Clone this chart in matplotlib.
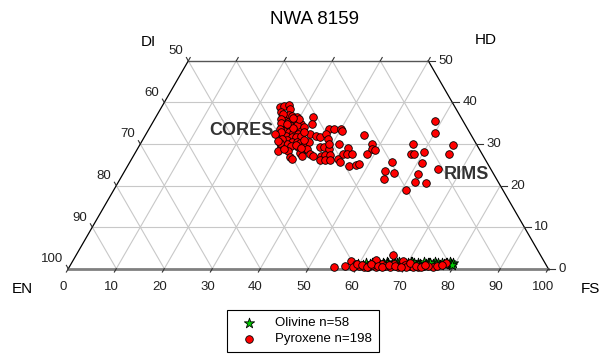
import matplotlib
matplotlib.use("Agg")
import matplotlib.pyplot as plt
import numpy as np

plt.rcParams['font.family'] = ['Liberation Sans', 'DejaVu Sans']

# Pyroxene analyses (Wo, Fs), En = 100 - Wo - Fs
pyx_wo = [38.9, 39.1, 39.3, 38.5, 37.7, 36.5, 36.9, 36.7, 36.4, 34.9, 35.7, 35.3, 35.6, 35.1,
          34.3, 34.1, 34.3, 33.7, 33.7, 33.1, 32.9, 32.7, 32.5, 32.1, 31.9, 31.6, 31.6, 31.9,
          30.9, 30.5, 30.5, 30.3, 30.3, 30.5, 29.9, 29.5, 29.3, 28.3, 28.3, 29.3, 28.5, 28.9,
          26.9, 27.9, 27.1, 27.7, 26.3,
          36.5, 34.7, 33.7, 33.7, 33.7, 33.2, 32.3, 31.9, 31.6, 32.3, 31.2, 32.1, 29.3, 29.3,
          28.9, 29.9, 29.1, 27.1, 27.1, 27.3, 27.3, 26.1, 26.1, 26.1, 26.5, 27.5, 27.5, 27.5,
          25.7, 24.7, 24.9, 25.3, 30.1,
          37.2, 36.0, 35.0, 34.6, 33.5, 32.8, 33.9, 31.2, 30.2, 35.9, 34.0, 33.0, 31.0, 29.8,
          28.8, 32.4, 34.8, 36.2, 30.8, 29.0,
          35.6, 32.7, 30.1, 28.7, 28.5, 27.7, 30.1, 29.7, 27.7, 27.7, 28.1, 27.5, 25.7, 25.5,
          23.5, 23.1, 24.1, 22.7, 21.5, 20.9, 20.5, 18.9,
          0.3, 1.8, 1.25, 0.6, 0.4, 0.3, 2.0, 0.4, 1.1, 0.4, 3.25, 1.25, 1.9, 0.6, 0.4, 0.6,
          0.4, 1.4, 0.4, 0.6, 0.8, 0.6, 0.5, 0.5, 0.6, 1.1, 1.1,
          0.9, 0.5, 1.2, 0.7, 0.4, 1.0, 0.6, 0.9, 0.5, 1.3, 0.7, 0.5, 0.8, 0.6, 1.0, 0.4]
pyx_fs = [24.6, 25.4, 26.3, 26.9, 25.5, 27.0, 27.5, 28.3, 29.4, 31.0, 27.1, 28.1, 28.9, 29.8,
          27.6, 28.6, 29.3, 30.5, 31.4, 28.4, 29.5, 30.5, 31.5, 28.5, 29.5, 30.7, 31.6, 32.5,
          30.2, 31.4, 32.3, 33.1, 34.1, 34.9, 30.6, 31.6, 29.7, 29.5, 31.6, 33.1, 34.7, 35.3,
          32.7, 34.3, 35.2, 36.6, 33.5,
          32.8, 33.4, 37.5, 38.6, 40.0, 40.4, 34.3, 35.7, 36.6, 37.5, 38.6, 45.6, 37.8, 38.7,
          39.9, 41.5, 43.8, 37.4, 39.0, 39.8, 40.9, 39.4, 40.4, 41.5, 43.0, 43.4, 44.4, 45.3,
          43.8, 46.2, 47.5, 48.0, 39.3,
          26.2, 26.4, 26.8, 30.4, 27.3, 28.0, 29.9, 29.0, 29.1, 30.2, 32.0, 32.6, 33.5, 32.6,
          30.6, 26.9, 28.2, 28.7, 28.3, 34.0,
          58.6, 60.0, 48.2, 48.9, 49.6, 48.3, 56.7, 65.2, 57.5, 58.2, 60.0, 65.6, 54.5, 60.9,
          54.2, 56.4, 64.9, 61.6, 55.0, 61.8, 64.3, 60.8,
          55.1, 57.9, 59.3, 60.3, 61.3, 62.35, 63.1, 63.9, 64.75, 66.8, 66.1, 68.9, 68.85, 70.9,
          72.7, 73.7, 75.7, 78.0, 59.05, 57.3, 62.9, 65.7, 68.4, 71.5, 74.6, 67.3, 59.6,
          60.8, 61.9, 62.4, 64.2, 65.1, 66.3, 67.8, 69.6, 70.2, 70.5, 72.1, 73.2, 74.0, 76.6,
          77.3, 69.1]

# Olivine analyses (plotted on the En-Fs join)
ol_fs = [59.8, 60.9, 61.4, 62.2, 62.7, 63.0, 63.6, 64.1, 64.4, 64.9, 65.3, 65.5, 66.0, 66.2,
         66.9, 67.1, 67.5, 67.9, 68.2, 68.6, 68.8, 69.3, 69.7, 70.1, 70.4, 70.6, 71.2, 71.4,
         71.9, 72.1, 72.6, 73.0, 73.3, 73.9, 74.2, 74.4, 74.8, 75.3, 75.6, 76.0, 76.4, 76.9,
         77.2, 77.6, 78.3, 78.7, 79.2, 79.5, 79.1, 79.4, 63.3, 65.9, 67.4, 69.0, 70.8, 72.4,
         74.6, 77.9]
ol_wo = [1.2, 1.0, 1.4, 1.1, 1.3, 0.9, 1.5, 1.2, 1.0, 1.4, 1.1, 1.6, 1.3, 1.0, 1.2, 1.4,
         0.9, 1.3, 1.5, 1.1, 1.0, 1.4, 1.2, 1.3, 1.0, 1.5, 1.1, 1.3, 0.9, 1.4, 1.2, 1.0,
         1.5, 1.1, 1.3, 1.4, 1.0, 1.2, 1.6, 1.1, 1.3, 1.0, 1.4, 1.2, 1.3, 1.5, 1.1, 1.4,
         1.2, 1.0, 1.4, 1.1, 1.3, 1.2, 1.5, 1.0, 1.3, 1.4]

left_ticks = [100, 90, 80, 70, 60, 50]
right_ticks = [0, 10, 20, 30, 40, 50]
bottom_ticks = [0, 10, 20, 30, 40, 50, 60, 70, 80, 90, 100]

H = np.sqrt(3) / 2


def to_xy(fs, wo):
    fs = np.asarray(fs, dtype=float)
    wo = np.asarray(wo, dtype=float)
    return fs + wo / 2, wo * H


fig = plt.figure(figsize=(6.03, 3.56), dpi=100)
ax = fig.add_axes([0, 0, 1, 1])
# 4.8 px per unit, EN corner at (68.3, 268.7) px from top-left
ax.set_xlim(-68.3 / 4.8, (603 - 68.3) / 4.8)
ax.set_ylim(-87.3 / 4.8, (356 - 87.3) / 4.8)
ax.axis('off')

grid_c = '#c8c8c8'
# horizontal grid (constant Wo)
for w in range(10, 50, 10):
    x0, y0 = to_xy(0, w)
    x1, y1 = to_xy(100 - w, w)
    ax.plot([x0, x1], [y0, y1], color=grid_c, lw=0.8, zorder=1)
# lines of constant Fs and constant En
for a in range(10, 100, 10):
    w_end = min(50, 100 - a)
    x0, y0 = to_xy(a, 0)
    x1, y1 = to_xy(a, w_end)
    ax.plot([x0, x1], [y0, y1], color=grid_c, lw=0.8, zorder=1)
    w_end = min(50, a)
    x0, y0 = to_xy(a, 0)
    x1, y1 = to_xy(a - w_end, w_end)
    ax.plot([x0, x1], [y0, y1], color=grid_c, lw=0.8, zorder=1)

# outline
ax.plot([0, 25], [0, 50 * H], color='black', lw=0.9, zorder=2)
ax.plot([100, 75], [0, 50 * H], color='black', lw=0.9, zorder=2)
ax.plot([25, 75], [50 * H, 50 * H], color='#555555', lw=1.0, zorder=2)
ax.plot([0, 100], [0, 0], color='#808080', lw=2.0, zorder=2)

tl = 0.8
tick_c = '#333333'
# bottom ticks and labels
for v in bottom_ticks:
    ax.plot([v, v - tl * 0.5], [0, -tl * H], color=tick_c, lw=0.8, zorder=2)
    ax.text(v - 1.0, -3.9, str(v), ha='center', va='center', fontsize=9.5, color='#222222')
# top ticks
for v in range(25, 80, 10):
    ax.plot([v, v + tl * 0.5], [50 * H, 50 * H + tl * H], color=tick_c, lw=0.8, zorder=2)
# left ticks and labels
for lab in left_ticks:
    w = 100 - lab
    x, y = to_xy(0, w)
    ax.plot([x, x - tl * 0.5], [y, y + tl * H], color=tick_c, lw=0.8, zorder=2)
    ax.text(x - 1.0, y + 2.0, str(lab), ha='right', va='center', fontsize=9.5, color='#222222')
# right ticks and labels
for lab in right_ticks:
    x, y = to_xy(100 - lab, lab)
    ax.plot([x, x + 1.3], [y, y], color=tick_c, lw=0.8, zorder=2)
    ax.text(x + 2.1, y, str(lab), ha='left', va='center', fontsize=9.5, color='#222222')

# corner and field labels
ax.text(-9.6, -4.2, 'EN', ha='center', va='center', fontsize=11)
ax.text(108.7, -4.2, 'FS', ha='center', va='center', fontsize=11)
ax.text(16.6, 47.2, 'DI', ha='center', va='center', fontsize=11)
ax.text(87.0, 47.6, 'HD', ha='center', va='center', fontsize=11)
ax.text(36.0, 28.7, 'CORES', ha='center', va='center', fontsize=13,
        fontweight='bold', color='#333333', zorder=6)
ax.text(82.9, 19.7, 'RIMS', ha='center', va='center', fontsize=13,
        fontweight='bold', color='#333333', zorder=6)
fig.text(314 / 603, 1 - 20 / 356, 'NWA 8159', ha='center', va='center', fontsize=13.5)

ox, oy = to_xy(ol_fs, ol_wo)
ol = ax.scatter(ox, oy, s=60, marker='*', facecolor='#00cc00', edgecolor='black',
                linewidths=0.6, zorder=3, label='Olivine n=58')
px, py = to_xy(pyx_fs, pyx_wo)
pyx = ax.scatter(px, py, s=30, marker='o', facecolor='#ff0000', edgecolor='black',
                 linewidths=0.6, zorder=4, label='Pyroxene n=198')

leg = ax.legend(handles=[ol, pyx], loc='upper left',
                bbox_to_anchor=(227 / 603, 1 - 309.5 / 356), bbox_transform=fig.transFigure,
                borderaxespad=0, fontsize=9.5, frameon=True, fancybox=False,
                edgecolor='black', framealpha=1, handlelength=2.2, handletextpad=0.9,
                labelspacing=0.3, borderpad=0.55)
leg.get_frame().set_linewidth(0.8)

fig.savefig('out.png', dpi=100)
